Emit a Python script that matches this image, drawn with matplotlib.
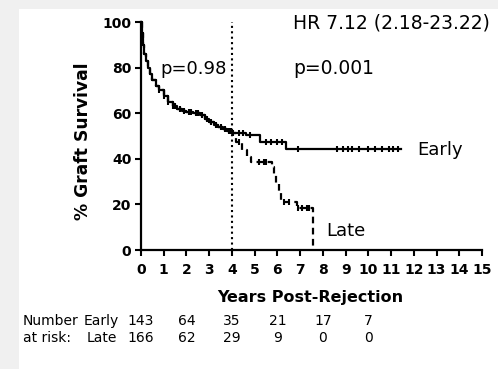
import numpy as np
import matplotlib
matplotlib.use('Agg')
import matplotlib.pyplot as plt
from matplotlib.patches import Rectangle
from matplotlib.transforms import blended_transform_factory

# Kaplan-Meier steps (years, % survival)
early_t = [0, 0.05, 0.1, 0.15, 0.2, 0.3, 0.4, 0.5, 0.65, 0.8, 1.0, 1.2, 1.4, 1.6,
           1.8, 2.0, 2.3, 2.6, 2.8, 3.0, 3.2, 3.4, 3.6, 3.8, 4.0, 4.6, 5.25, 6.4, 11.45]
early_s = [100, 95, 90, 86, 83, 80, 77, 74.5, 72, 70, 67.5, 65, 63, 62,
           61, 60.5, 60, 59, 57.5, 56, 55, 54, 53, 52, 51.5, 50.5, 47.5, 44.3, 44.3]

late_t = [0, 0.05, 0.1, 0.15, 0.2, 0.3, 0.4, 0.5, 0.65, 0.8, 1.0, 1.2, 1.4, 1.6,
          1.8, 2.0, 2.3, 2.6, 2.8, 3.0, 3.2, 3.4, 3.6, 3.8, 4.0, 4.2, 4.45, 4.65,
          4.85, 5.75, 5.85, 5.95, 6.05, 6.15, 6.85, 7.55]
late_s = [100, 95, 90, 86, 83, 80, 77, 74.5, 72, 70, 67.5, 65, 63, 62,
          61, 60.5, 60, 59, 57.5, 56, 55, 54, 53, 52, 51.5, 47.5, 44, 41,
          38.7, 36.5, 33, 29, 25, 21.2, 18.3, 0]

early_cens = [0.8, 1.0, 1.2, 1.4, 1.5, 1.7, 1.9, 2.1, 2.2, 2.4, 2.5, 2.7, 2.9,
              3.1, 3.3, 3.5, 3.7, 3.85, 3.95, 4.05, 4.3, 4.5, 4.8, 5.5, 5.7,
              6.0, 6.2, 6.9, 8.6, 8.9, 9.1, 9.3, 9.6, 10.0, 10.3, 10.6, 10.9, 11.1, 11.3]
late_cens = [4.3, 5.2, 5.4, 5.5, 6.3, 6.5, 6.9, 7.1, 7.3, 7.4]

risk_years = [0, 2, 4, 6, 8, 10]
risk_early = [143, 64, 35, 21, 17, 7]
risk_late = [166, 62, 29, 9, 0, 0]


def step_value(t, s, x):
    i = np.searchsorted(t, x, side='right') - 1
    return np.array(s)[i]


W, H = 498, 369
fig = plt.figure(figsize=(W / 100, H / 100), dpi=100, facecolor='#f0f0f0')
fig.patches.append(Rectangle((19 / W, 0), 1, 1 - 9 / H, transform=fig.transFigure,
                             facecolor='white', edgecolor='none', zorder=-10))

ax = fig.add_axes([141 / W, 1 - 250 / H, 341 / W, 228 / H])
ax.set_facecolor('none')

ax.step(early_t, early_s, where='post', color='black', lw=1.6, clip_on=False)
ax.step(late_t, late_s, where='post', color='black', lw=1.6,
        linestyle=(0, (3, 2)), clip_on=False)
ax.plot(early_cens, step_value(early_t, early_s, early_cens), ls='none',
        marker='|', ms=4, mew=1.5, color='black')
ax.plot(late_cens, step_value(late_t, late_s, late_cens), ls='none',
        marker='|', ms=4, mew=1.5, color='black')

ax.axvline(4, color='black', lw=1.5, linestyle=(0, (1, 1.6)))

ax.set_xlim(0, 15)
ax.set_ylim(0, 100)
ax.set_xticks(range(0, 16))
ax.set_yticks(range(0, 101, 20))
for side in ['top', 'right']:
    ax.spines[side].set_visible(False)
for side in ['left', 'bottom']:
    ax.spines[side].set_linewidth(1.6)
ax.tick_params(axis='both', direction='out', length=4.5, width=1.5, labelsize=10)
ax.tick_params(axis='x', pad=5)
ax.tick_params(axis='y', pad=2.5)
for lab in ax.get_xticklabels() + ax.get_yticklabels():
    lab.set_fontweight('bold')

ax.text(0.84, 77.4, 'p=0.98', fontsize=13, va='baseline')
ax.text(6.7, 97.2, 'HR 7.12 (2.18-23.22)', fontsize=13.5, va='baseline', clip_on=False)
ax.text(6.7, 77.4, 'p=0.001', fontsize=13.5, va='baseline')
ax.text(12.13, 41.7, 'Early', fontsize=13, va='baseline', clip_on=False)
ax.text(8.17, 6.1, 'Late', fontsize=13, va='baseline')

fig.text(83 / W, 1 - 140.8 / H, '% Graft Survival', rotation=90, fontsize=12.3,
         fontweight='bold', ha='center', va='center')
fig.text(310.5 / W, 1 - 301.7 / H, 'Years Post-Rejection', fontsize=11.5,
         fontweight='bold', ha='center', va='baseline')

row1 = 1 - 325 / H
row2 = 1 - 341.7 / H
fig.text(23 / W, row1, 'Number', fontsize=10, va='baseline')
fig.text(84 / W, row1, 'Early', fontsize=10, va='baseline')
fig.text(23 / W, row2, 'at risk:', fontsize=10, va='baseline')
fig.text(87 / W, row2, 'Late', fontsize=10, va='baseline')
tr = blended_transform_factory(ax.transData, fig.transFigure)
for yr, n1, n2 in zip(risk_years, risk_early, risk_late):
    ax.text(yr, row1, str(n1), transform=tr, fontsize=10, ha='center', va='baseline')
    ax.text(yr, row2, str(n2), transform=tr, fontsize=10, ha='center', va='baseline')

fig.savefig('out.png', dpi=100, facecolor=fig.get_facecolor())
